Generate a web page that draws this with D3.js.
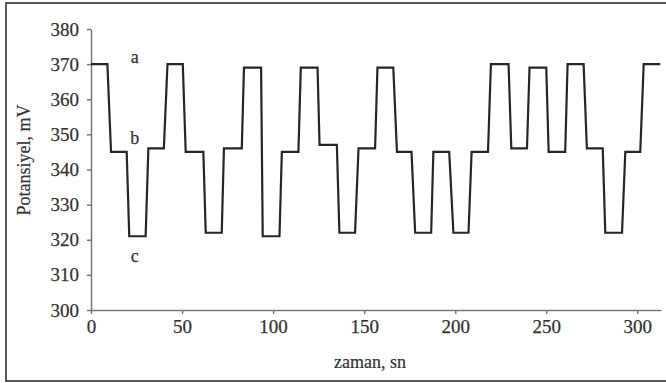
<!DOCTYPE html>
<html><head><meta charset="utf-8">
<script src="https://cdn.jsdelivr.net/npm/d3@7"></script>
<style>
body{margin:0;background:#fff;}
svg text{font-family:"Liberation Serif","Times New Roman",serif;}
</style></head>
<body><svg id="c" width="666" height="383"></svg>
<script>
const time = [0,9,11,19.6,21,30,31.5,40,42,50.4,52,61.7,63,71.8,73,82.8,84,93.4,94.3,103.5,104.8,113.9,115.2,124.4,125.5,135,136.4,145,146.9,156,157.3,166,168,176,178,186.8,188,196.7,199,207.3,209,218,219.6,229.3,230.8,239.4,240.8,250,251.3,260.4,261.7,270.5,272.3,281,282.4,291.6,293.4,301.6,303.5,312.6];
const potential = [370,370,345,345,321,321,346,346,370,370,345,345,322,322,346,346,369,369,321,321,345,345,369,369,347,347,322,322,346,346,369,369,345,345,322,322,345,345,322,322,345,345,370,370,346,346,369,369,345,345,370,370,346,346,322,322,345,345,370,370];
const xTicks = [0,50,100,150,200,250,300];
const yTicks = [300,310,320,330,340,350,360,370,380];
const stateLabels = ["a","b","c"];
const stateValues = [372,349,315.5];
const xTitle = "zaman, sn";
const yTitle = "Potansiyel, mV";

const svg = d3.select("#c");
svg.append("rect").attr("x",6).attr("y",3).attr("width",680).attr("height",378)
  .attr("fill","none").attr("stroke","#222").attr("stroke-width",1.5);

const x = d3.scaleLinear().domain([0,313]).range([91,661]);
const y = d3.scaleLinear().domain([300,380]).range([310,29]);

const gx = svg.append("g").attr("transform","translate(0,310)")
  .call(d3.axisBottom(x).tickValues(xTicks).tickSize(4).tickSizeOuter(0).tickPadding(6));
const gy = svg.append("g").attr("transform","translate(91,0)")
  .call(d3.axisLeft(y).tickValues(yTicks).tickSize(4).tickSizeOuter(0).tickPadding(8));
[gx,gy].forEach(g=>{
  g.selectAll("path,line").attr("stroke","#777").attr("stroke-width",1.5);
  g.selectAll("text").attr("font-size",19).attr("fill","#333")
   .attr("stroke","#333").attr("stroke-width",0.25)
   .attr("font-family","'Liberation Serif',serif");
});

const line = d3.line().x((d,i)=>x(time[i])).y((d,i)=>y(potential[i]));
svg.append("path").datum(potential).attr("d",line).attr("fill","none")
  .attr("stroke","#262626").attr("stroke-width",2.2).attr("stroke-linejoin","miter");

svg.selectAll(".st").data(stateLabels).enter().append("text")
  .attr("x",x(24)).attr("y",(d,i)=>y(stateValues[i])).attr("text-anchor","middle")
  .attr("dominant-baseline","central").attr("font-size",18).attr("fill","#333")
  .attr("stroke","#333").attr("stroke-width",0.25).text(d=>d);

svg.append("text").attr("x",370).attr("y",362).attr("text-anchor","middle")
  .attr("dominant-baseline","central").attr("font-size",18).attr("fill","#333")
  .attr("stroke","#333").attr("stroke-width",0.2).text(xTitle);
svg.append("text").attr("transform","translate(24,160) rotate(-90)").attr("text-anchor","middle")
  .attr("dominant-baseline","central").attr("font-size",18).attr("fill","#333")
  .attr("stroke","#333").attr("stroke-width",0.2).text(yTitle);
</script></body></html>
